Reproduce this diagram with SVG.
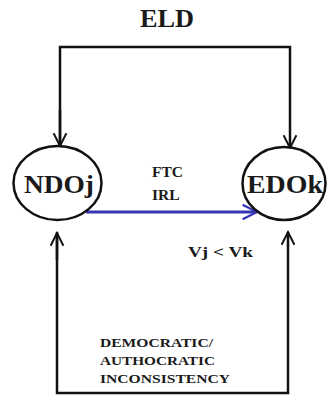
<svg xmlns="http://www.w3.org/2000/svg" width="327" height="398" viewBox="0 0 327 398">
<style>
.t{font-family:"Liberation Serif","Times New Roman",serif;font-weight:bold;fill:#1a1a1a}
.ln{fill:none;stroke:#111;stroke-width:2.5}
.bl{fill:none;stroke:#3535b5;stroke-width:3}
.node{fill:#fff;stroke:#111;stroke-width:2.5}
</style>
<defs>
<marker id="ah" viewBox="0 0 20 20" refX="18" refY="10" markerWidth="16" markerHeight="18" markerUnits="userSpaceOnUse" orient="auto">
<path d="M2,2 L18,10 L2,18" fill="none" stroke="#111" stroke-width="2.4"/>
</marker>
<marker id="ahb" viewBox="0 0 20 20" refX="18" refY="10" markerWidth="18" markerHeight="18" markerUnits="userSpaceOnUse" orient="auto">
<path d="M2,2 L18,10 L2,18" fill="none" stroke="#3535b5" stroke-width="2.6"/>
</marker>
</defs>
<text class="t" x="167" y="27" font-size="25" text-anchor="middle" textLength="54" lengthAdjust="spacingAndGlyphs">ELD</text>
<g id="connectors">
<path class="ln" d="M60,147 L60,47 L290,47 L290,148" marker-end="url(#ah)"/>
<path class="ln" d="M60,110 L60,146" marker-end="url(#ah)"/>
<path class="ln" d="M57,232 L57,393 L288,393 L288,232" marker-end="url(#ah)"/>
<path class="ln" d="M57,260 L57,233" marker-end="url(#ah)"/>
<path class="bl" d="M86,212 L257,212" marker-end="url(#ahb)"/>
</g>
<g id="NDOj">
<ellipse class="node" cx="57.5" cy="183" rx="44" ry="37"/>
<text class="t" x="59" y="193" font-size="26" text-anchor="middle" textLength="70" lengthAdjust="spacingAndGlyphs">NDOj</text>
</g>
<g id="EDOk">
<ellipse class="node" cx="284" cy="183.5" rx="41.5" ry="36.5"/>
<text class="t" x="285" y="193" font-size="26" text-anchor="middle" textLength="76" lengthAdjust="spacingAndGlyphs">EDOk</text>
</g>
<text class="t" x="152" y="177" font-size="15.5">FTC</text>
<text class="t" x="152" y="200" font-size="15.5">IRL</text>
<text class="t" x="188" y="257" font-size="15.5" textLength="65" lengthAdjust="spacingAndGlyphs">Vj &lt; Vk</text>
<text class="t" x="100" y="347" font-size="13" fill="#333" textLength="113" lengthAdjust="spacingAndGlyphs">DEMOCRATIC/</text>
<text class="t" x="100" y="365" font-size="13" fill="#333" textLength="115" lengthAdjust="spacingAndGlyphs">AUTHOCRATIC</text>
<text class="t" x="100" y="383" font-size="13" fill="#333" textLength="130" lengthAdjust="spacingAndGlyphs">INCONSISTENCY</text>
</svg>
